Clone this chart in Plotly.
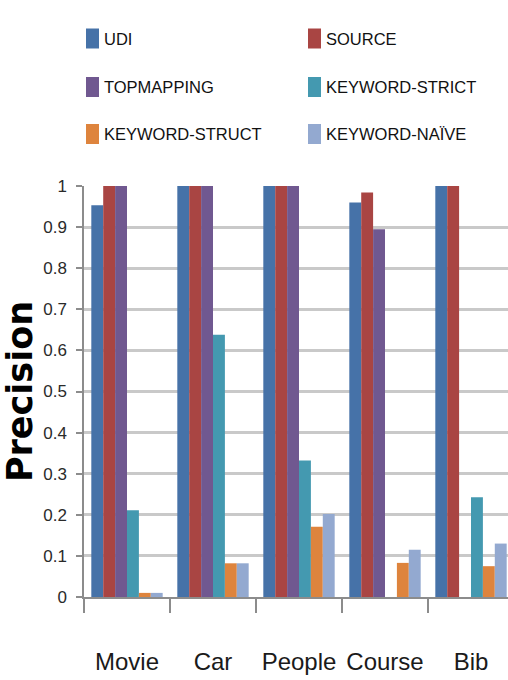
import plotly.graph_objects as go

# Data
categories = ["Movie", "Car", "People", "Course", "Bib"]
series_names = ["UDI", "SOURCE", "TOPMAPPING", "KEYWORD-STRICT", "KEYWORD-STRUCT", "KEYWORD-NAÏVE"]
series_colors = ["#4672A8", "#A94543", "#705890", "#4499B0", "#DE843D", "#93A9D0"]

udi = [0.953, 1.0, 1.0, 0.96, 1.0]
source = [1.0, 1.0, 1.0, 0.984, 1.0]
topmapping = [1.0, 1.0, 1.0, 0.895, None]
keyword_strict = [0.211, 0.638, 0.332, None, 0.243]
keyword_struct = [0.01, 0.082, 0.171, 0.083, 0.075]
keyword_naive = [0.01, 0.082, 0.202, 0.115, 0.13]

series_values = [udi, source, topmapping, keyword_strict, keyword_struct, keyword_naive]
y_ticks = [0, 0.1, 0.2, 0.3, 0.4, 0.5, 0.6, 0.7, 0.8, 0.9, 1]
y_tick_labels = ["0", "0.1", "0.2", "0.3", "0.4", "0.5", "0.6", "0.7", "0.8", "0.9", "1"]

W, H = 508, 680
L, R, T, B = 84, 0, 186, 83
plot_w = W - L - R
plot_h = H - T - B
cat_px = 86.0  # width of one category band in pixels

FONT = "Liberation Sans, Arial, sans-serif"

fig = go.Figure()
for name, color, vals in zip(series_names, series_colors, series_values):
    fig.add_trace(go.Bar(
        x=categories, y=vals, name=name,
        marker=dict(color=color, line=dict(width=0)),
        showlegend=False,
    ))


def px_x(px):
    return (px - L) / plot_w


def px_y(py):
    return (H - B - py) / plot_h


# Two-column legend drawn as swatches and labels above the plot
legend_cols = [86, 308]
legend_rows = [38.5, 87, 134]
shapes = []
annotations = []
for i, (name, color) in enumerate(zip(series_names, series_colors)):
    cx = legend_cols[i % 2]
    cy = legend_rows[i // 2]
    shapes.append(dict(
        type="rect", xref="paper", yref="paper",
        x0=px_x(cx), x1=px_x(cx + 13), y0=px_y(cy - 10), y1=px_y(cy + 10),
        fillcolor=color, line=dict(width=0),
    ))
    annotations.append(dict(
        xref="paper", yref="paper", x=px_x(cx + 16), y=px_y(cy),
        xanchor="left", yanchor="middle", text=name, showarrow=False,
        font=dict(family=FONT, size=16.5, color="#111111"),
    ))

fig.update_layout(
    width=W, height=H,
    margin=dict(l=L, r=R, t=T, b=B),
    paper_bgcolor="white", plot_bgcolor="white",
    barmode="group", bargap=0.17, bargroupgap=0,
    shapes=shapes, annotations=annotations,
    showlegend=False,
)

fig.update_xaxes(
    range=[-0.5, -0.5 + plot_w / cat_px],
    showline=True, linecolor="#8c8c8c", linewidth=1.5,
    ticks="outside", tickson="boundaries", ticklen=14, tickcolor="#8c8c8c", tickwidth=1.5,
    tickfont=dict(family=FONT, size=24, color="#1a1a1a"),
    tickangle=0, ticklabelstandoff=42, automargin=False,
    showgrid=False, zeroline=False, fixedrange=True,
)

fig.update_yaxes(
    range=[0, 1], tickvals=y_ticks, ticktext=y_tick_labels,
    showline=True, linecolor="#8c8c8c", linewidth=1.5,
    ticks="outside", ticklen=6, tickcolor="#8c8c8c", tickwidth=1.5,
    tickfont=dict(family=FONT, size=17, color="#2a2a2a"),
    ticklabelstandoff=6, automargin=False,
    showgrid=True, gridcolor="#c9c9c9", gridwidth=2.5,
    zeroline=False,
    title=dict(text="Precision", standoff=11,
               font=dict(family="DejaVu Sans, sans-serif", size=35, color="#000000", weight="bold")),
)

fig.write_html("out.html")
